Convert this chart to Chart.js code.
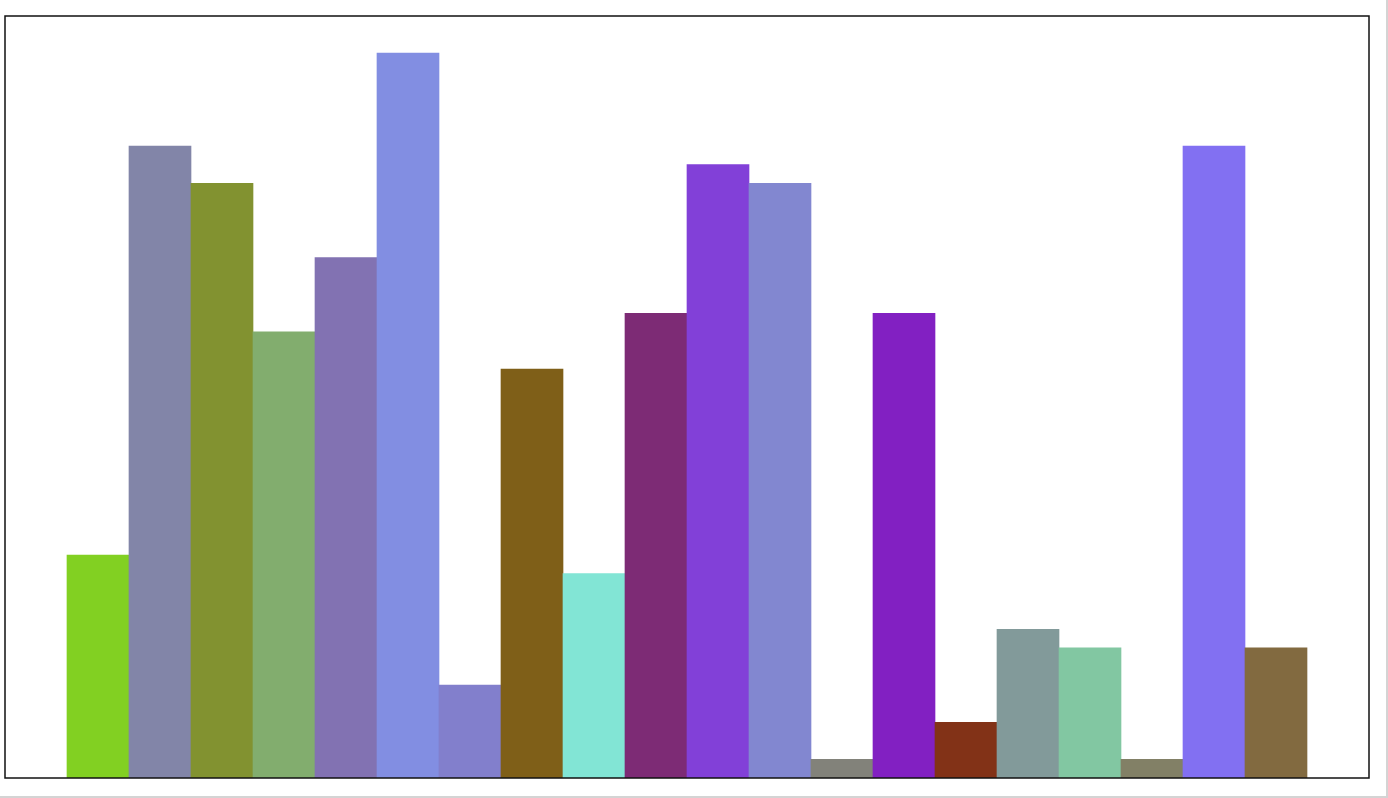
<!DOCTYPE html>
<html>
<head>
<meta charset="utf-8">
<script src="https://cdn.jsdelivr.net/npm/chart.js@4/dist/chart.umd.min.js"></script>
<style>
  html, body { margin: 0; padding: 0; background: #d4d4d4; }
  #wrap { width: 1386px; height: 796px; background: #fff; }
</style>
</head>
<body>
<div id="wrap"><canvas id="myChart" width="1386" height="796"></canvas></div>
<script>
// empty slot at each end, as in the original
const labels = ['', 'A', 'B', 'C', 'D', 'E', 'F', 'G', 'H', 'I', 'J', 'K', 'L', 'M', 'N', 'O', 'P', 'Q', 'R', 'S', 'T', ''];
const values = [null, 12, 34, 32, 24, 28, 39, 5, 22, 11, 25, 33, 32, 1, 25, 3, 8, 7, 1, 34, 7, null];
const colors = [
    '#fff', '#82d022', '#8285a8', '#829230', '#82ad6e', '#8272b2', '#828ee2', '#827fcc',
    '#7f5f18', '#82e5d5', '#7d2b75', '#8240d8', '#8287d0', '#82827a', '#8220c2',
    '#823217', '#829a9a', '#82c7a2', '#828066', '#8270f2', '#826a40', '#fff'
];
const yMax = 41;

const frame = {
    id: 'frame',
    afterDraw(chart){
        const a = chart.chartArea;
        const ctx = chart.ctx;
        ctx.save();
        ctx.strokeStyle = '#111';
        ctx.lineWidth = 1.5;
        ctx.strokeRect(a.left, a.top, a.right - a.left, a.bottom - a.top);
        ctx.restore();
    }
};

new Chart('myChart', {
    type: 'bar',
    data: {
        labels: labels,
        datasets: [{
            data: values,
            backgroundColor: colors,
            borderWidth: 0,
            categoryPercentage: 1.0,
            barPercentage: 1.0
        }]
    },
    options: {
        responsive: false,
        animation: false,
        layout: { padding: { left: 5, top: 16, right: 17, bottom: 18 } },
        plugins: { legend: { display: false }, tooltip: { enabled: false } },
        scales: {
            x: { display: false },
            y: { display: false, min: 0, max: yMax }
        }
    },
    plugins: [frame]
});
</script>
</body>
</html>
